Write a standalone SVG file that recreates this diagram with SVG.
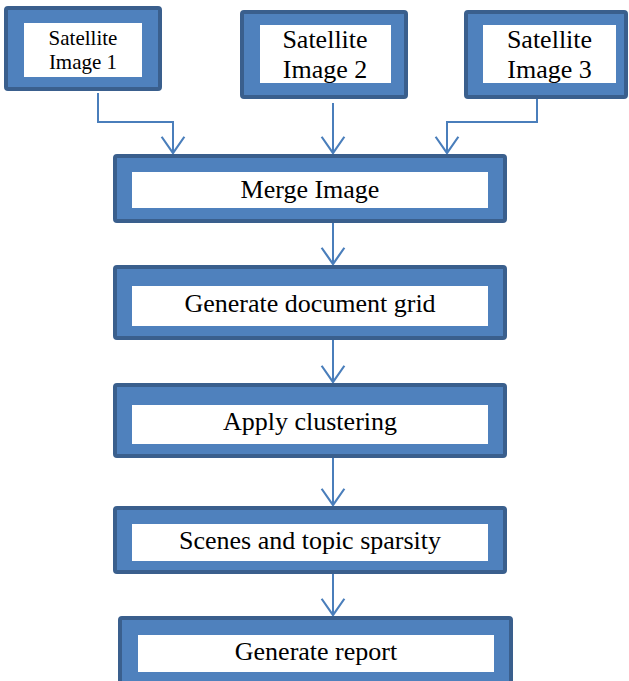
<svg xmlns="http://www.w3.org/2000/svg" width="629" height="681" viewBox="0 0 629 681">
  <defs>
    <style>
      .outer { fill: #4F81BD; stroke: #3A5F8D; stroke-width: 4; }
      .inner { fill: #FFFFFF; }
      .t { font-family: "Liberation Serif", "Times New Roman", serif; fill: #000; text-anchor: middle; }
      .big { font-size: 26px; }
      .small { font-size: 21px; }
      .conn { fill: none; stroke: #4A7EBB; stroke-width: 2; }
    </style>
    <marker id="vhead" markerUnits="userSpaceOnUse" markerWidth="24" markerHeight="26" viewBox="-17 -12 19 24" refX="0" refY="0" orient="auto">
      <path d="M-15,-10.5 L0,0 L-15,10.5" fill="none" stroke="#4A7EBB" stroke-width="2"/>
    </marker>
  </defs>
  <rect width="629" height="681" fill="#FFFFFF"/>

  <g id="connectors">
    <path class="conn" d="M98,93 V122 H173 V153" marker-end="url(#vhead)"/>
    <path class="conn" d="M333,103 V153" marker-end="url(#vhead)"/>
    <path class="conn" d="M537,99 V122 H447 V153" marker-end="url(#vhead)"/>
    <path class="conn" d="M333,223 V264" marker-end="url(#vhead)"/>
    <path class="conn" d="M333,340 V382" marker-end="url(#vhead)"/>
    <path class="conn" d="M333,458 V505" marker-end="url(#vhead)"/>
    <path class="conn" d="M333,574 V615" marker-end="url(#vhead)"/>
  </g>

  <g id="sat1">
    <rect class="outer" x="6" y="8" width="154" height="81" rx="2"/>
    <rect class="inner" x="24" y="23" width="118" height="54"/>
    <text class="t small" x="83" y="45">Satellite</text>
    <text class="t small" x="83" y="69">Image 1</text>
  </g>

  <g id="sat2">
    <rect class="outer" x="242" y="12" width="164" height="85" rx="2"/>
    <rect class="inner" x="260" y="25" width="131" height="58"/>
    <text class="t big" x="325" y="48">Satellite</text>
    <text class="t big" x="325" y="78">Image 2</text>
  </g>

  <g id="sat3">
    <rect class="outer" x="466" y="12" width="160" height="85" rx="2"/>
    <rect class="inner" x="483" y="25" width="133" height="58"/>
    <text class="t big" x="549.5" y="48">Satellite</text>
    <text class="t big" x="549.5" y="78">Image 3</text>
  </g>

  <g id="merge">
    <rect class="outer" x="115" y="156" width="390" height="65" rx="2"/>
    <rect class="inner" x="132" y="172" width="356" height="36"/>
    <text class="t big" x="310" y="198">Merge Image</text>
  </g>

  <g id="grid">
    <rect class="outer" x="115" y="267" width="390" height="71" rx="2"/>
    <rect class="inner" x="132" y="286" width="356" height="40"/>
    <text class="t big" x="310" y="312">Generate document grid</text>
  </g>

  <g id="cluster">
    <rect class="outer" x="115" y="385" width="390" height="71" rx="2"/>
    <rect class="inner" x="132" y="405" width="356" height="39"/>
    <text class="t big" x="310" y="430">Apply clustering</text>
  </g>

  <g id="scenes">
    <rect class="outer" x="115" y="508" width="390" height="64" rx="2"/>
    <rect class="inner" x="132" y="524" width="356" height="37"/>
    <text class="t big" x="310" y="549">Scenes and topic sparsity</text>
  </g>

  <g id="report">
    <rect class="outer" x="120" y="618" width="391" height="80" rx="2"/>
    <rect class="inner" x="138" y="635" width="356" height="37"/>
    <text class="t big" x="316" y="660">Generate report</text>
  </g>
</svg>
